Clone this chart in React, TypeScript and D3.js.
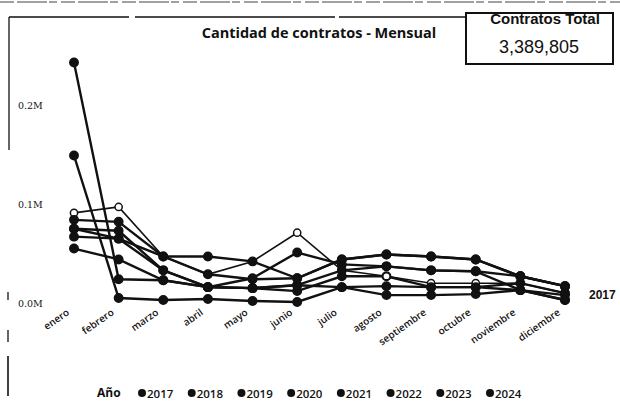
import React from 'react';
import { scalePoint, scaleLinear, line, format } from 'd3';

const months = ['enero', 'febrero', 'marzo', 'abril', 'mayo', 'junio', 'julio', 'agosto', 'septiembre', 'octubre', 'noviembre', 'diciembre'];
const years = ['2017', '2018', '2019', '2020', '2021', '2022', '2023', '2024'];

// values in thousands of contracts
const s2017 = [55, 44, 23, 16, 15, 12, 27, 27, 16, 16, 13, 8];
const s2018 = [243, 24, 23, 16, 15, 18, 16, 8, 8, 9, 13, 3];
const s2019 = [91, 97, 47, 29, 42, 71, 33, 27, 20, 20, 20, 10];
const s2020 = [84, 82, 47, 47, 42, 25, 44, 49, 47, 44, 27, 17];
const s2021 = [75, 73, 33, 16, 25, 51, 39, 37, 33, 32, 27, 17];
const s2022 = [149, 5, 3, 4, 2, 1, 16, 17, 16, 16, 20, 10];
const s2023 = [67, 65, 33, 16, 15, 18, 33, 37, 33, 32, 13, 3];
const s2024 = [75, 65, 47, 29, 24, 25, 44, 49, 47, 44, 27, 17];
const seriesValues = [s2017, s2018, s2019, s2020, s2021, s2022, s2023, s2024];
const openMarker = [false, false, true, false, false, false, false, false];

const yTicks = [0, 100000, 200000];
const total = 3389805;

const App = () => {
  const x = scalePoint<string>().domain(months).range([74, 565]);
  const y = scaleLinear().domain([0, 200000]).range([303, 105]);
  const path = line<number>()
    .x((d, i) => x(months[i]) as number)
    .y((d) => y(d * 1000));
  const fmtM = (v: number) => format('.1f')(v / 1e6) + 'M';
  const legendX = scalePoint<string>().domain(years).range([142, 490]);
  const ink = '#111';

  return (
    <svg
      width={620}
      height={404}
      style={{ position: 'absolute', left: 0, top: 0, background: '#fff' }}
    >
      {/* scan borders */}
      <line x1={0} y1={2} x2={620} y2={2} stroke='#444' strokeWidth={1.2} strokeDasharray='14 3 30 2 8 4' />
      <line x1={9} y1={17} x2={466} y2={17} stroke={ink} strokeWidth={1.5} strokeDasharray='120 6 200 4 140' />
      <line x1={9} y1={17} x2={9} y2={150} stroke={ink} strokeWidth={1.3} />
      <line x1={8} y1={292} x2={8} y2={300} stroke={ink} strokeWidth={1.3} />
      <line x1={8} y1={330} x2={8} y2={342} stroke={ink} strokeWidth={1.3} />
      <line x1={8} y1={356} x2={8} y2={396} stroke={ink} strokeWidth={1.6} />

      <text x={319} y={38} textAnchor='middle' fontFamily='Open Sans' fontWeight='bold' fontSize={14.5} fill={ink}>
        Cantidad de contratos - Mensual
      </text>

      {/* KPI card */}
      <rect x={466} y={13} width={147} height={51} fill='#fff' stroke={ink} strokeWidth={2} />
      <text x={545} y={24} textAnchor='middle' fontFamily='Liberation Sans' fontWeight='bold' fontSize={15} fill={ink}>
        Contratos Total
      </text>
      <text x={539} y={53} textAnchor='middle' fontFamily='Liberation Sans' fontSize={18} fill={ink}>
        {format(',')(total)}
      </text>

      {/* y axis */}
      {yTicks.map((t) => (
        <text key={t} x={18} y={y(t) + 4} fontFamily='DejaVu Serif' fontSize={9.5} fill={ink}>
          {fmtM(t)}
        </text>
      ))}

      {/* x axis labels */}
      {months.map((m) => (
        <text
          key={m}
          transform={`translate(${(x(m) as number) - 4},${314}) rotate(-35)`}
          textAnchor='end'
          fontFamily='Open Sans'
          fontWeight={600}
          fontSize={10}
          fill={ink}
        >
          {m}
        </text>
      ))}

      {/* series */}
      {seriesValues.map((vals, si) => (
        <path
          key={years[si]}
          d={path(vals) || ''}
          fill='none'
          stroke={ink}
          strokeWidth={openMarker[si] ? 1.6 : 2.4}
        />
      ))}
      {seriesValues.map((vals, si) =>
        vals.map((v, i) => (
          <circle
            key={years[si] + i}
            cx={x(months[i]) as number}
            cy={y(v * 1000)}
            r={openMarker[si] ? 3.6 : 4.2}
            fill={openMarker[si] ? '#fff' : ink}
            stroke={ink}
            strokeWidth={1.5}
          />
        ))
      )}

      <text x={589} y={299} fontFamily='Liberation Sans' fontWeight='bold' fontSize={12} fill={ink}>
        2017
      </text>

      {/* legend */}
      <text x={97} y={397} fontFamily='Open Sans' fontWeight='bold' fontSize={12} fill={ink}>
        Año
      </text>
      {years.map((yr) => (
        <g key={yr} transform={`translate(${legendX(yr)},393)`}>
          <circle r={4} fill={ink} />
          <text x={5} y={4.5} fontFamily='Open Sans' fontWeight={600} fontSize={11.5} fill={ink}>
            {yr}
          </text>
        </g>
      ))}
    </svg>
  );
};

export default App;
